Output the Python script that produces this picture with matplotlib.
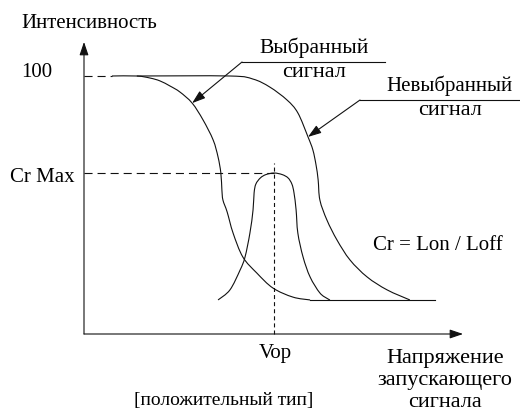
import matplotlib
matplotlib.use("Agg")
import numpy as np
import matplotlib.pyplot as plt
import matplotlib.transforms as mtransforms
from matplotlib.path import Path
from matplotlib.patches import PathPatch

plt.rcParams['font.family'] = ['Liberation Serif']
plt.rcParams['lines.scale_dashes'] = False

# Characteristic levels (intensity in %, drive voltage in arbitrary units)
i_max = 100.0
cr_max = 62.4
l_off = 13.2
vop = 54.3

# Selected-signal transmission curve
selected_x = [8.0, 15.1, 18.9, 21.7, 24.6, 27.4, 30.9, 34.0, 36.9, 38.3, 39.1,
              39.4, 39.7, 40.9, 42.6, 45.4, 49.4, 54.0, 59.7, 64.6]
selected_y = [100.0, 100.0, 99.2, 98.1, 96.1, 93.8, 89.5, 83.0, 75.2, 68.6, 62.4,
              55.8, 51.9, 47.3, 39.1, 29.8, 23.6, 17.8, 14.3, 13.2]

# Non-selected-signal transmission curve
nonsel_x = [15.1, 41.7, 48.3, 53.1, 58.0, 61.1, 64.0, 65.4, 66.3, 66.9, 67.4,
            69.4, 72.3, 76.0, 80.9, 86.6, 93.1]
nonsel_y = [100.0, 100.0, 98.8, 95.7, 90.7, 85.7, 76.4, 71.3, 65.5, 59.7, 51.9,
            44.2, 36.4, 28.7, 22.1, 17.1, 13.2]

# Contrast ratio curve
cr_x = [38.3, 41.7, 44.6, 46.0, 47.4, 48.3, 48.6, 49.1, 50.4, 52.0, 54.3,
        56.6, 58.3, 59.4, 60.0, 60.6, 61.1, 62.6, 64.6, 67.4, 69.7, 70.3]
cr_y = [13.2, 17.1, 24.8, 29.8, 39.1, 48.1, 54.7, 58.1, 60.5, 61.8, 62.4,
        61.8, 60.5, 58.1, 54.7, 48.1, 39.1, 29.8, 22.1, 15.9, 13.6, 13.2]

# Common off-level floor
floor_x = [64.6, 100.3]

x_axis_end = 108.3
y_axis_end = 113.2

W, H = 520, 418
fig = plt.figure(figsize=(W / 100, H / 100), dpi=100)
ax = fig.add_axes([0, 0, 1, 1])
sx, sy = 3.5, 2.58  # px per unit
ox, oy = 84, 334    # origin in px from top-left
ax.set_xlim(-ox / sx, (W - ox) / sx)
ax.set_ylim(-(H - oy) / sy, oy / sy)
ax.axis('off')

# pixel coordinates measured from the top-left corner
PX = mtransforms.Affine2D().scale(1 / W, -1 / H).translate(0, 1) + fig.transFigure

ink = '#111111'
lw = 0.8
txt_style = dict(family='Liberation Serif', color='black',
                 va='baseline', transform=PX)

arrow = dict(arrowstyle='-|>,head_length=0.5,head_width=0.17', color=ink,
             lw=lw, shrinkA=0, shrinkB=0, mutation_scale=16)


def smooth_curve(xs, ys, **kw):
    """Draw a smooth cubic Bezier path passing through the given points."""
    p = np.column_stack([xs, ys]).astype(float)
    ext = np.vstack([p[0], p, p[-1]])
    verts = [p[0]]
    codes = [Path.MOVETO]
    for i in range(len(p) - 1):
        p0, p1, p2, p3 = ext[i], ext[i + 1], ext[i + 2], ext[i + 3]
        verts += [p1 + (p2 - p0) / 6, p2 - (p3 - p1) / 6, p2]
        codes += [Path.CURVE4] * 3
    ax.add_patch(PathPatch(Path(verts, codes), fill=False, **kw))


# Axes with arrowheads
ax.annotate('', xy=(x_axis_end, 0), xytext=(0, 0), arrowprops=arrow)
ax.annotate('', xy=(0, y_axis_end), xytext=(0, 0), arrowprops=arrow)

# Curves
smooth_curve(selected_x, selected_y, edgecolor=ink, lw=lw)
smooth_curve(nonsel_x, nonsel_y, edgecolor=ink, lw=lw)
smooth_curve(cr_x, cr_y, edgecolor=ink, lw=lw)
ax.plot(floor_x, [l_off, l_off], color=ink, lw=lw)

# Reference dashed lines
ax.plot([0, selected_x[0]], [i_max, i_max], color=ink, lw=lw, dashes=(5.8, 3.6))
ax.plot([0, vop], [cr_max, cr_max], color=ink, lw=lw, dashes=(5.8, 3.6))
ax.plot([vop, vop], [0, cr_max + 3.9], color=ink, lw=lw, dashes=(2.9, 2.2))

# Axis labels and level labels
ax.text(21, 28, 'Интенсивность', ha='left', fontsize=15, **txt_style)
ax.text(52, 77, '100', ha='right', fontsize=15, **txt_style)
ax.text(75, 182, 'Cr Max', ha='right', fontsize=15, **txt_style)
ax.text(275, 358, 'Vop', ha='center', fontsize=15, **txt_style)
for txt, yb in [('Напряжение', 363), ('запускающего', 385), ('сигнала', 407)]:
    ax.text(445, yb, txt, ha='center', fontsize=16, **txt_style)
ax.text(224, 405, '[положительный тип]', ha='center', fontsize=14, **txt_style)
ax.text(438, 250, 'Cr = Lon / Loff', ha='center', fontsize=15, **txt_style)

# Callout: selected signal
ax.text(314, 53, 'Выбранный', ha='center', fontsize=15.5, **txt_style)
ax.text(314, 77, 'сигнал', ha='center', fontsize=16, **txt_style)
ax.plot([242, 385], [62, 62], transform=PX, color=ink, lw=lw)
ax.annotate('', xy=(selected_x[6], selected_y[6]), xycoords='data',
            xytext=(242, 62), textcoords=PX, arrowprops=arrow)

# Callout: non-selected signal
ax.text(449, 91, 'Невыбранный', ha='center', fontsize=15, **txt_style)
ax.text(450, 115, 'сигнал', ha='center', fontsize=16, **txt_style)
ax.plot([360, 520], [100, 100], transform=PX, color=ink, lw=lw)
ax.annotate('', xy=(nonsel_x[6], nonsel_y[6]), xycoords='data',
            xytext=(360, 100), textcoords=PX, arrowprops=arrow)

fig.savefig('out.png', dpi=100, facecolor='white')
